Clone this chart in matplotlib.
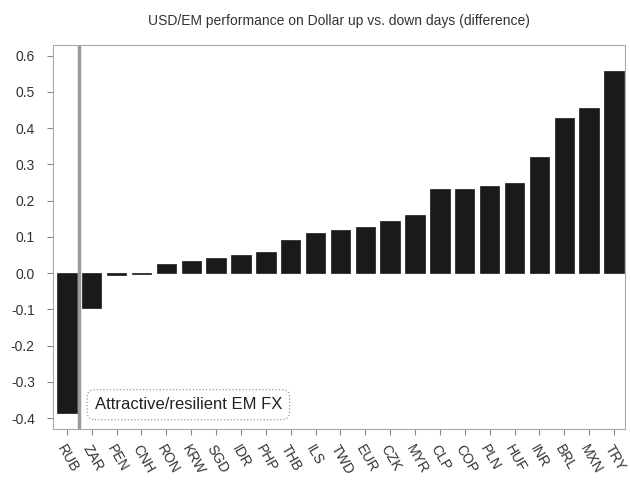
import matplotlib
matplotlib.use("Agg")
import matplotlib.pyplot as plt

currencies = ["RUB", "ZAR", "PEN", "CNH", "RON", "KRW", "SGD", "IDR", "PHP", "THB",
              "ILS", "TWD", "EUR", "CZK", "MYR", "CLP", "COP", "PLN", "HUF", "INR",
              "BRL", "MXN", "TRY"]
diff = [-0.387, -0.097, -0.005, -0.002, 0.025, 0.033, 0.041, 0.050, 0.058, 0.091,
        0.110, 0.120, 0.127, 0.144, 0.160, 0.232, 0.232, 0.240, 0.249, 0.320,
        0.428, 0.456, 0.558]
yticks = [-0.4, -0.3, -0.2, -0.1, 0.0, 0.1, 0.2, 0.3, 0.4, 0.5, 0.6]

plt.rcParams["font.family"] = ["Liberation Sans", "DejaVu Sans"]

fig = plt.figure(figsize=(6.3, 4.82), dpi=100)
ax = fig.add_axes([0.084, 0.110, 0.908, 0.797])

x = list(range(len(currencies)))
ax.bar(x, diff, width=0.78, color="#1a1a1a", edgecolor="#1a1a1a", linewidth=0.5)
ax.axvline(0.5, color="#999999", linewidth=2.5)

ax.set_xlim(-0.56, len(currencies) - 0.56)
ax.set_ylim(-0.43, 0.63)
ax.set_yticks(yticks)
ax.set_yticklabels([f"{v:.1f}" for v in yticks])
ax.set_xticks(x)
ax.set_xticklabels(currencies, rotation=-60, ha="left", rotation_mode="anchor")

for s in ax.spines.values():
    s.set_linestyle((0, (1, 1)))
    s.set_color("#aaaaaa")
    s.set_linewidth(0.8)
ax.tick_params(axis="both", colors="#888888", labelcolor="#333333", labelsize=10,
               length=4, width=0.8, direction="out")
ax.tick_params(axis="y", pad=9)
ax.tick_params(axis="x", pad=6)

ax.set_title("USD/EM performance on Dollar up vs. down days (difference)",
             fontsize=10, color="#333333", pad=14)

ax.text(1.12, -0.363, "Attractive/resilient EM FX", fontsize=12, color="#222222",
        ha="left", va="center",
        bbox=dict(boxstyle="round,pad=0.45", facecolor="white",
                  edgecolor="#999999", linestyle=":", linewidth=0.9))

fig.savefig("out.png", dpi=100)
